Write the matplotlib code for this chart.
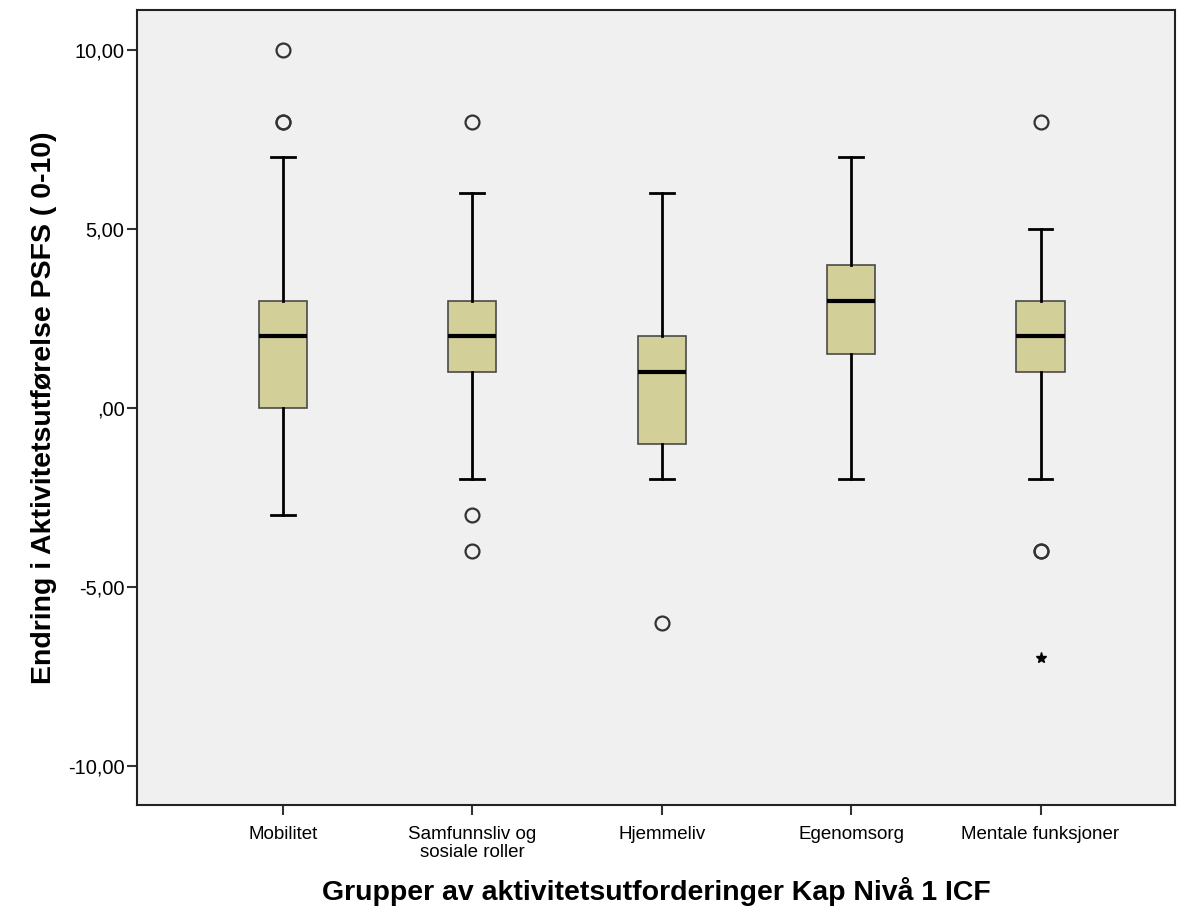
import matplotlib.pyplot as plt
import matplotlib.ticker as mticker

plt.rcParams['font.family'] = ['Liberation Sans', 'DejaVu Sans']

## data
groups = ["Mobilitet", "Samfunnsliv og\nsosiale roller", "Hjemmeliv",
          "Egenomsorg", "Mentale funksjoner"]
whislo = [-3, -2, -2, -2, -2]
q1 = [0, 1, -1, 1.5, 1]
med = [2, 2, 1, 3, 2]
q3 = [3, 3, 2, 4, 3]
whishi = [7, 6, 6, 7, 5]
outliers = [[8, 8, 10], [8, -3, -4], [-6], [], [8, -4, -4]]
extremes = [[], [], [], [], [-7]]

stats = []
for i in range(len(groups)):
    stats.append(dict(whislo=whislo[i], q1=q1[i], med=med[i], q3=q3[i],
                      whishi=whishi[i], fliers=outliers[i]))

fig = plt.figure(figsize=(11.85, 9.17), dpi=100)
ax = fig.add_axes([0.1156, 0.1221, 0.876, 0.867])
ax.set_facecolor("#f0f0f0")

pos = list(range(len(groups)))
ax.bxp(stats, positions=pos, widths=0.254, capwidths=0.125, patch_artist=True,
       boxprops=dict(facecolor="#d3cf98", edgecolor="#4a4a4a", lw=1.2),
       medianprops=dict(color="black", lw=3),
       whiskerprops=dict(color="black", lw=2),
       capprops=dict(color="black", lw=2),
       flierprops=dict(marker="o", markerfacecolor="none",
                       markeredgecolor="#333333", markersize=10, mew=1.6))

for i, ext in enumerate(extremes):
    if ext:
        ax.plot([pos[i]] * len(ext), ext, "*", color="black", ms=8)


def fmt(v, p):
    s = ("%.2f" % v).replace(".", ",")
    return ",00" if v == 0 else s


ax.set_xlim(-0.77, 4.71)
ax.set_ylim(-11.1, 11.12)
ax.set_yticks([-10, -5, 0, 5, 10])
ax.yaxis.set_major_formatter(mticker.FuncFormatter(fmt))
ax.set_xticks(pos)
ax.set_xticklabels(groups, fontsize=13.5, linespacing=1.05)
ax.tick_params(axis="y", labelsize=14.5, length=7, width=1.5, color="#333333",
               pad=2)
ax.tick_params(axis="x", length=7, width=1.5, color="#333333", pad=8)

for s in ax.spines.values():
    s.set_linewidth(1.5)
    s.set_color("#222222")

ax.set_ylabel("Endring i Aktivitetsutførelse PSFS ( 0-10)", fontsize=20.5,
              fontweight="bold", labelpad=8)
ax.set_xlabel("Grupper av aktivitetsutforderinger Kap Nivå 1 ICF", fontsize=20.5,
              fontweight="bold", labelpad=12)

fig.savefig("out.png", dpi=100)
